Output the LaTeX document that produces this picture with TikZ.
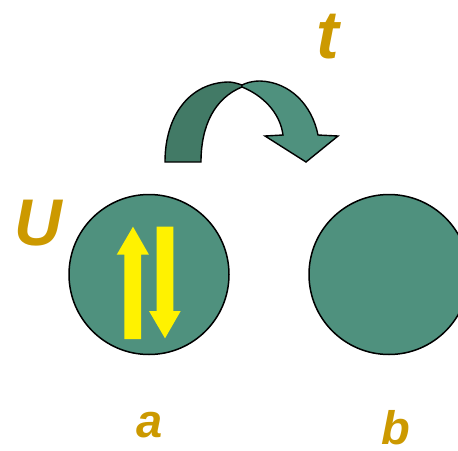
\documentclass[tikz,border=0pt]{standalone}
\usepackage{fontspec}
\setmainfont{Liberation Sans}
\definecolor{teal1}{RGB}{79,145,126}
\definecolor{teal2}{RGB}{66,122,102}
\definecolor{gold}{RGB}{204,153,0}
\tikzset{
  site/.style={circle, draw=black, line width=1.5pt, fill=teal1, minimum size=160pt, inner sep=0pt},
  lbl/.style={text=gold, anchor=base, inner sep=0pt},
  spin/.style={fill=yellow, draw=none},
  band/.style={draw=black, line width=1.4pt, line join=miter}
}
\begin{document}
\begin{tikzpicture}[x=1pt,y=-1pt]
\path[use as bounding box] (0,0) rectangle (458,450);
\clip (0,0) rectangle (458,450);
\node[site] (a) at (149,274.5) {};
\node[site] (b) at (389,274.5) {};
% spins
\fill[spin] (124.3,339) -- (141,339) -- (141,254.7) -- (149,254.7) -- (133,226.7) -- (116.7,254.7) -- (124.3,254.7) -- cycle;
\fill[spin] (156.7,226.7) -- (173.3,226.7) -- (173.3,311) -- (180.7,311) -- (165,338.3) -- (149,311) -- (156.7,311) -- cycle;
% hopping arrow: dark back band
\filldraw[band, fill=teal2] (165,162) -- (201,162) .. controls (201,125) and (215,98) .. (242,87)
  -- (242,85) .. controls (236,83) and (232,82) .. (228,82) .. controls (190,83) and (165,115) .. (165,162) -- cycle;
% light front band with head
\filldraw[band, fill=teal1] (242,87) .. controls (262,95) and (280,112) .. (283,135)
  -- (265,136) -- (306,162) -- (338,136) -- (318,135)
  .. controls (312,105) and (290,82) .. (260,81) .. controls (252,81) and (246,83) .. (242,85) -- cycle;
% labels
\node[lbl, font=\fontsize{68}{68}\selectfont\bfseries\itshape] (t) at (328,58) {t};
\node[lbl, font=\fontsize{66}{66}\selectfont\bfseries\itshape] (U) at (38,245) {U};
\node[lbl, font=\fontsize{47}{47}\selectfont\bfseries\itshape] (la) at (150,437) {a};
\node[lbl, font=\fontsize{47}{47}\selectfont\bfseries\itshape] (lb) at (396,444) {b};
\end{tikzpicture}
\end{document}
